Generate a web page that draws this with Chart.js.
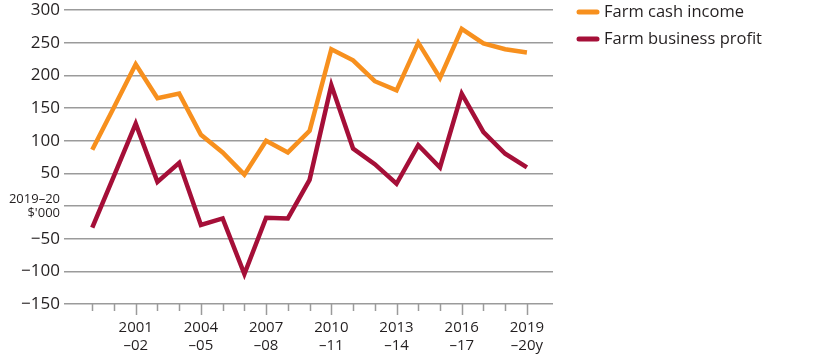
<!DOCTYPE html>
<html>
<head>
<meta charset="utf-8">
<script src="https://cdn.jsdelivr.net/npm/chart.js@4"></script>
<style>
  html, body { margin: 0; padding: 0; background: #fff; }
  #wrap { position: relative; width: 815px; height: 356px; }
</style>
</head>
<body>
<div id="wrap"><canvas id="c" width="815" height="356"></canvas></div>
<script>
const seasons = ['1999–00','2000–01','2001–02','2002–03','2003–04','2004–05','2005–06','2006–07','2007–08','2008–09','2009–10','2010–11','2011–12','2012–13','2013–14','2014–15','2015–16','2016–17','2017–18','2018–19','2019–20'];
const labelledSeasons = ['2001–02','2004–05','2007–08','2010–11','2013–14','2016–17','2019–20'];
const xUnit = 'y';
const cashIncome = [86, 151, 217, 165, 172, 109, 82, 48, 100, 82, 115, 240, 223, 191, 177, 250, 196, 271, 249, 240, 235];
const businessProfit = [-33, 46, 126, 37, 66, -29, -19, -104, -18, -19, 40, 185, 88, 64, 34, 93, 59, 172, 113, 80, 59];
const yTicks = [300, 250, 200, 150, 100, 50, 0, -50, -100, -150];
const yUnitLabel = ['2019–20', "$'000"];
const seriesNames = ['Farm cash income', 'Farm business profit'];

const ORANGE = '#F7901E';
const RED = '#A50F38';
const TEXT = '#231F20';
const GRID = '#9b9b9b';
const FONT = "'Open Sans', sans-serif";

const legendPlugin = {
  id: 'sideLegend',
  afterDraw(chart) {
    const ctx = chart.ctx;
    ctx.save();
    chart.data.datasets.forEach((ds, i) => {
      const y = 12 + i * 27;
      ctx.strokeStyle = ds.borderColor;
      ctx.lineWidth = 5;
      ctx.lineCap = 'round';
      ctx.beginPath();
      ctx.moveTo(579, y);
      ctx.lineTo(597, y);
      ctx.stroke();
      ctx.fillStyle = TEXT;
      ctx.font = "16.5px " + FONT;
      ctx.textBaseline = 'middle';
      ctx.textAlign = 'left';
      ctx.fillText(ds.label, 604, y);
    });
    ctx.restore();
  }
};

const tickPlugin = {
  id: 'xTicks',
  afterDraw(chart) {
    const xs = chart.scales.x;
    const ys = chart.scales.y;
    const ctx = chart.ctx;
    const base = ys.getPixelForValue(yTicks[yTicks.length - 1]);
    ctx.save();
    ctx.strokeStyle = GRID;
    ctx.lineWidth = 1.5;
    seasons.forEach((s, i) => {
      const px = Math.round(xs.getPixelForValue(i)) + 0.5;
      const len = labelledSeasons.includes(s) ? 11 : 7;
      ctx.beginPath();
      ctx.moveTo(px, base);
      ctx.lineTo(px, base + len);
      ctx.stroke();
    });
    ctx.restore();
  }
};

new Chart(document.getElementById('c'), {
  type: 'line',
  data: {
    datasets: [
      { label: seriesNames[0], data: cashIncome.map((v, i) => ({ x: i, y: v })), borderColor: ORANGE, backgroundColor: ORANGE },
      { label: seriesNames[1], data: businessProfit.map((v, i) => ({ x: i, y: v })), borderColor: RED, backgroundColor: RED }
    ]
  },
  options: {
    responsive: false,
    animation: false,
    devicePixelRatio: 1,
    layout: { padding: { top: 10, right: 262, left: 0, bottom: 0 } },
    elements: {
      line: { borderWidth: 4.5, tension: 0, borderJoinStyle: 'miter', borderCapStyle: 'butt' },
      point: { radius: 0, hoverRadius: 0 }
    },
    plugins: { legend: { display: false }, tooltip: { enabled: false } },
    scales: {
      x: {
        type: 'linear',
        min: -1.3,
        max: 21.2,
        afterBuildTicks(scale) { scale.ticks = seasons.map((s, i) => ({ value: i })); },
        afterFit(scale) { scale.height = 52; scale.paddingLeft = 0; scale.paddingRight = 0; },
        border: { display: false },
        grid: { display: false, drawTicks: false },
        ticks: {
          autoSkip: false,
          maxRotation: 0,
          padding: 15,
          color: TEXT,
          font: { family: FONT, size: 15, lineHeight: 1.2 },
          callback(v) {
            const s = seasons[v];
            if (!labelledSeasons.includes(s)) return '';
            const last = s === seasons[seasons.length - 1];
            return [s.slice(0, 4), '–' + s.slice(5) + (last ? xUnit : '')];
          }
        }
      },
      y: {
        min: -150,
        max: 300,
        afterBuildTicks(scale) { scale.ticks = yTicks.map(v => ({ value: v })); },
        afterFit(scale) { scale.width = 64; scale.paddingTop = 0; scale.paddingBottom = 0; },
        border: { display: false },
        grid: { color: GRID, lineWidth: 1.5, drawTicks: false },
        ticks: {
          padding: 4,
          color: TEXT,
          font(ctx) {
            if (ctx.tick && ctx.tick.value === 0) return { family: FONT, size: 13, lineHeight: 1.1 };
            return { family: FONT, size: 17 };
          },
          callback(v) { return v === 0 ? yUnitLabel : String(v).replace('-', '−'); }
        }
      }
    }
  },
  plugins: [legendPlugin, tickPlugin]
});
</script>
</body>
</html>
